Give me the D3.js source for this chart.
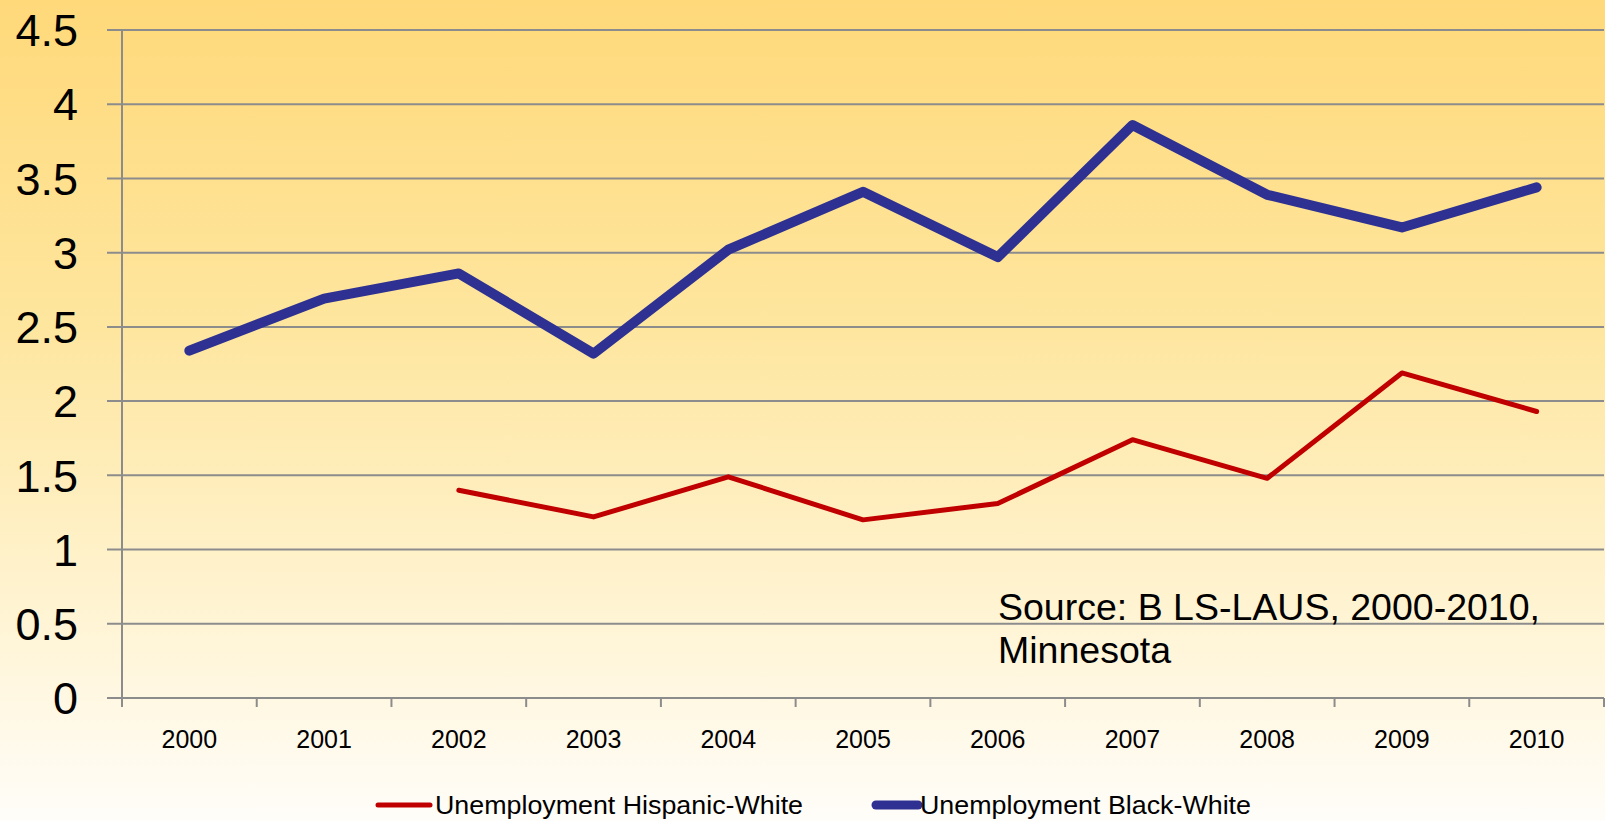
<!DOCTYPE html>
<html>
<head>
<meta charset="utf-8">
<script src="https://cdn.jsdelivr.net/npm/d3@7"></script>
<style>
  html, body { margin: 0; padding: 0; background: #fffdf8; }
  #chart { width: 1605px; height: 821px; }
  text { font-family: "Liberation Sans", Arial, sans-serif; fill: #000; }
</style>
</head>
<body>
<div id="chart"></div>
<script>
// chart data
const years = ['2000', '2001', '2002', '2003', '2004', '2005', '2006', '2007', '2008', '2009', '2010'];
const hispanicWhite = [null, null, 1.40, 1.22, 1.49, 1.20, 1.31, 1.74, 1.48, 2.19, 1.93];
const blackWhite = [2.34, 2.69, 2.86, 2.32, 3.02, 3.41, 2.97, 3.86, 3.39, 3.17, 3.44];
const yTicks = [0, 0.5, 1, 1.5, 2, 2.5, 3, 3.5, 4, 4.5];
const seriesNames = ['Unemployment Hispanic-White', 'Unemployment Black-White'];
const sourceLines = ['Source: B LS-LAUS, 2000-2010,', 'Minnesota'];

const W = 1605, H = 821;
const margin = {top: 30, right: 1, bottom: 123, left: 122},
    width = W - margin.left - margin.right,
    height = H - margin.top - margin.bottom;

const svg = d3.select('#chart')
  .append('svg')
    .attr('width', W)
    .attr('height', H);

// background gradient
const grad = svg.append('defs').append('linearGradient')
    .attr('id', 'bg').attr('x1', 0).attr('y1', 0).attr('x2', 0).attr('y2', 1);
grad.append('stop').attr('offset', '0%').attr('stop-color', '#ffd97a');
grad.append('stop').attr('offset', '40%').attr('stop-color', '#fee69f');
grad.append('stop').attr('offset', '70%').attr('stop-color', '#fff2cc');
grad.append('stop').attr('offset', '100%').attr('stop-color', '#fffdf9');
svg.append('rect').attr('width', W).attr('height', H).attr('fill', 'url(#bg)');

const g = svg.append('g')
    .attr('transform', `translate(${margin.left},${margin.top})`);

const x = d3.scaleBand().domain(years).range([0, width]);
const y = d3.scaleLinear().domain([0, 4.5]).range([height, 0]);

// gridlines
g.append('g')
  .selectAll('line')
  .data(yTicks)
  .join('line')
    .attr('x1', -15).attr('x2', width)
    .attr('y1', d => y(d)).attr('y2', d => y(d))
    .attr('stroke', '#8c8c8c').attr('stroke-width', 2);

// y axis line
g.append('line')
  .attr('x1', 0).attr('x2', 0)
  .attr('y1', 0).attr('y2', height + 9)
  .attr('stroke', '#8c8c8c').attr('stroke-width', 2);

// x axis ticks at category boundaries
const bounds = years.map(d => x(d)).concat([width]);
g.append('g')
  .selectAll('line')
  .data(bounds)
  .join('line')
    .attr('x1', d => d).attr('x2', d => d)
    .attr('y1', height).attr('y2', height + 9)
    .attr('stroke', '#8c8c8c').attr('stroke-width', 2);

// y labels
g.append('g')
  .selectAll('text')
  .data(yTicks)
  .join('text')
    .attr('x', -44)
    .attr('y', d => y(d))
    .attr('dy', '0.36em')
    .attr('text-anchor', 'end')
    .style('font-size', '45px')
    .text(d => d);

// x labels
g.append('g')
  .selectAll('text')
  .data(years)
  .join('text')
    .attr('x', d => x(d) + x.bandwidth() / 2)
    .attr('y', height + 50)
    .attr('text-anchor', 'middle')
    .style('font-size', '25px')
    .text(d => d);

// lines
const line = d3.line()
  .defined(d => d[1] != null)
  .x(d => x(d[0]) + x.bandwidth() / 2)
  .y(d => y(d[1]));

g.append('path')
  .datum(years.map((d, i) => [d, hispanicWhite[i]]))
  .attr('d', line)
  .attr('fill', 'none')
  .attr('stroke', '#c00000')
  .attr('stroke-width', 5)
  .attr('stroke-linecap', 'round')
  .attr('stroke-linejoin', 'round');

g.append('path')
  .datum(years.map((d, i) => [d, blackWhite[i]]))
  .attr('d', line)
  .attr('fill', 'none')
  .attr('stroke', '#2e3192')
  .attr('stroke-width', 10)
  .attr('stroke-linecap', 'round')
  .attr('stroke-linejoin', 'round');

// source note
svg.append('text')
  .attr('x', 998)
  .attr('y', 620)
  .style('font-size', '37.5px')
  .selectAll('tspan')
  .data(sourceLines)
  .join('tspan')
    .attr('x', 998)
    .attr('dy', (d, i) => i === 0 ? 0 : 43)
    .text(d => d);

// legend
const legend = [
  {name: seriesNames[0], color: '#c00000', w: 5, x1: 378, x2: 430, tx: 435, len: 368},
  {name: seriesNames[1], color: '#2e3192', w: 9, x1: 876, x2: 918, tx: 920, len: 331}
];
const lg = svg.append('g');
lg.selectAll('line')
  .data(legend)
  .join('line')
    .attr('x1', d => d.x1).attr('x2', d => d.x2)
    .attr('y1', 805).attr('y2', 805)
    .attr('stroke', d => d.color)
    .attr('stroke-width', d => d.w)
    .attr('stroke-linecap', 'round');
lg.selectAll('text')
  .data(legend)
  .join('text')
    .attr('x', d => d.tx)
    .attr('y', 814)
    .style('font-size', '26px')
    .attr('textLength', d => d.len)
    .attr('lengthAdjust', 'spacingAndGlyphs')
    .text(d => d.name);
</script>
</body>
</html>
